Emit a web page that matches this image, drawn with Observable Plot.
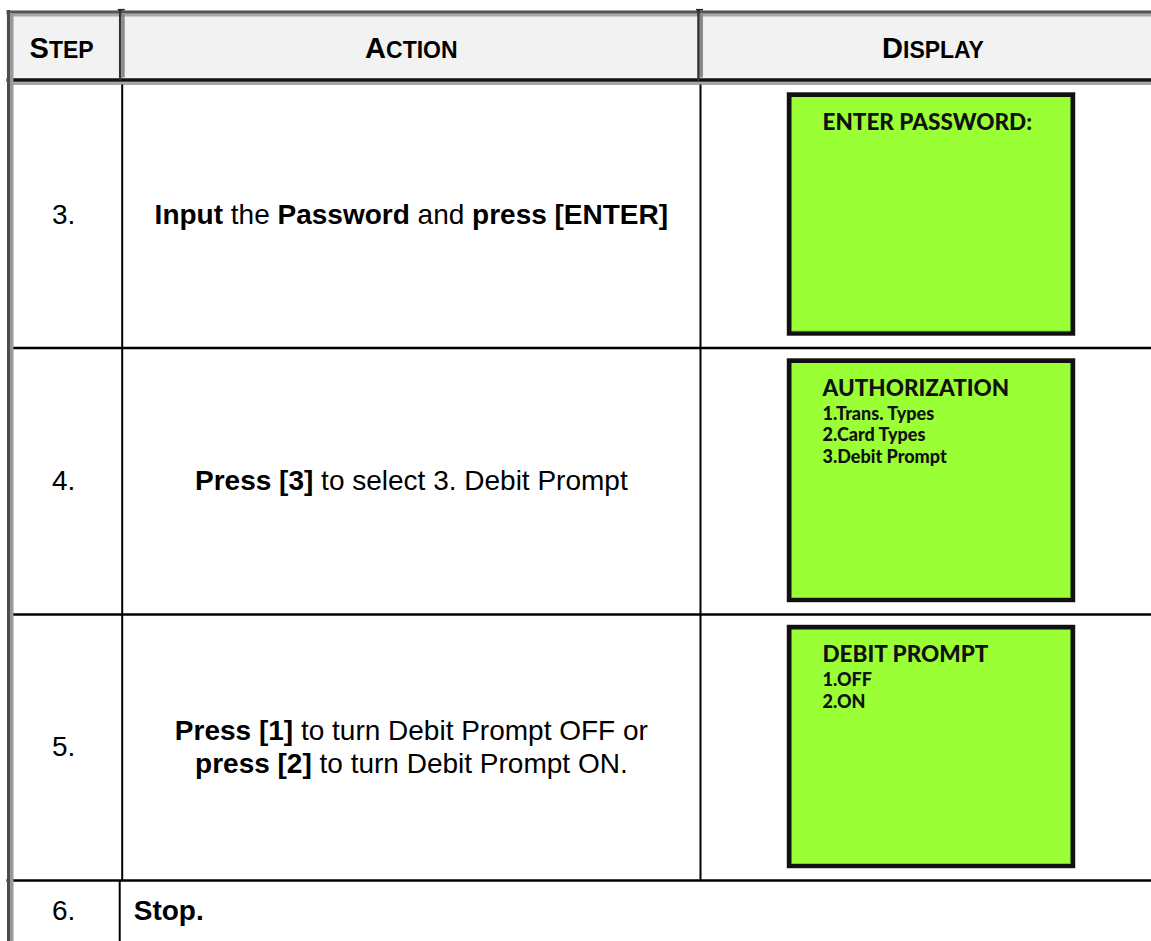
<!DOCTYPE html>
<html><head><meta charset="utf-8">
<script src="https://cdn.jsdelivr.net/npm/d3@7"></script>
<script src="https://cdn.jsdelivr.net/npm/@observablehq/plot@0.6"></script>
<style>html,body{margin:0;padding:0;background:#fff;} #chart svg{display:block;}</style>
</head><body><div id="chart"></div>
<script>
// ---- content ----
const headers = ["STEP", "ACTION", "DISPLAY"];
const steps = ["3.", "4.", "5.", "6."];
const actions = [
  ["*Input* the *Password* and *press [ENTER]*"],
  ["*Press [3]* to select 3. Debit Prompt"],
  ["*Press [1]* to turn Debit Prompt OFF or", "*press [2]* to turn Debit Prompt ON."],
  ["*Stop.*"]
];
const displayTitles = ["ENTER PASSWORD:", "AUTHORIZATION", "DEBIT PROMPT"];
const displayItems = [[], ["1.Trans. Types", "2.Card Types", "3.Debit Prompt"], ["1.OFF", "2.ON"]];

// ---- layout ----
const W = 1151, H = 941;
const L = {
  colEdges: [6.5, 121.7, 700, 1165],
  rowEdges: [10, 81.5, 347.5, 614, 880, 941],
  lastRowDivider: 119.2,
  stopIndent: 14,
  headerBaselineUp: 24.5,
  capFont: 29, smallFont: 23,
  actionFont: 28, actionLineGap: 33,
  boxLeft: 787, boxRight: 1075, boxInsetTop: 11, boxInsetBottom: 12,
  titleOffset: 21, itemOffset: 48, itemGap: 21.5,
  titleFont: 22.5, itemFont: 18
};
const sans = "'Liberation Sans', Arial, Helvetica, sans-serif";
const lcd = "Lato, 'Open Sans', sans-serif";
const colCenter = i => (L.colEdges[i] + L.colEdges[i + 1]) / 2;
const rowTop = i => L.rowEdges[i + 1];
const rowBottom = i => L.rowEdges[i + 2];
const rowCenter = i => (rowTop(i) + rowBottom(i)) / 2;
const lastRow = steps.length - 1;

const stepRows = steps.map((s, i) => ({x: colCenter(0) - 1, y: rowCenter(i), text: s}));
const actionLines = actions.flatMap((lines, i) => lines.map((t, j) => ({
  row: i,
  x: i === lastRow ? L.lastRowDivider + L.stopIndent : colCenter(1),
  y: rowCenter(i) + (j - (lines.length - 1) / 2) * L.actionLineGap,
  text: t
})));
const boxes = displayTitles.map((t, i) => ({
  x1: L.boxLeft, x2: L.boxRight,
  y1: rowTop(i) + L.boxInsetTop, y2: rowBottom(i) - L.boxInsetBottom, title: t
}));
const items = displayItems.flatMap((arr, i) => arr.map((t, j) => ({
  x: L.boxLeft + 35, y: boxes[i].y1 + L.itemOffset + j * L.itemGap, text: t
})));
const headerRows = headers.map((h, i) => ({x: colCenter(i) - (i === 0 ? 3 : 0), y: L.rowEdges[1] - L.headerBaselineUp, text: h}));
const bodyRowLines = L.rowEdges.slice(2, 5);

const svg = Plot.plot({
  width: W, height: H, margin: 0,
  x: {domain: [0, W], range: [0, W], axis: null},
  y: {domain: [0, H], range: [0, H], axis: null},
  style: {background: "#fff", overflow: "hidden"},
  marks: [
    // header background
    Plot.rect([0], {x1: L.colEdges[0], x2: L.colEdges[3], y1: L.rowEdges[0], y2: L.rowEdges[1], fill: "#f2f2f2"}),
    // header top border
    Plot.ruleY([L.rowEdges[0] + 1.7], {x1: L.colEdges[0], x2: L.colEdges[3], stroke: "#555", strokeWidth: 3.3}),
    Plot.ruleY([L.rowEdges[0] + 4.7], {x1: L.colEdges[0] + 6, x2: L.colEdges[3], stroke: "#a8a8a8", strokeWidth: 2.7}),
    // header bottom border
    Plot.ruleY([L.rowEdges[1] - 2], {x1: L.colEdges[0], x2: L.colEdges[3], stroke: "#111", strokeWidth: 3.5}),
    Plot.ruleY([L.rowEdges[1] + 1.5], {x1: L.colEdges[0] + 6, x2: L.colEdges[3], stroke: "#a6a6a6", strokeWidth: 3}),
    // header column dividers
    Plot.ruleX(L.colEdges.slice(1, 3), {x: d => d - 2, y1: L.rowEdges[0] - 1, y2: L.rowEdges[1] - 1, stroke: "#333", strokeWidth: 2.5}),
    Plot.ruleX(L.colEdges.slice(1, 3), {x: d => d + 1, y1: L.rowEdges[0] + 3, y2: L.rowEdges[1] - 4, stroke: "#8a8a8a", strokeWidth: 3}),
    Plot.ruleY(L.colEdges.slice(1, 3), {y: L.rowEdges[0] - 0.8, x1: d => d - 4, x2: d => d + 3, stroke: "#222", strokeWidth: 1.6}),
    // body row lines
    Plot.ruleY(bodyRowLines, {x1: (d, i) => i === 2 ? L.colEdges[0] : L.colEdges[0] + 6.5, x2: L.colEdges[3], stroke: "#000", strokeWidth: 2.5}),
    // body column dividers
    Plot.ruleX(L.colEdges.slice(1, 3), {y1: L.rowEdges[1] + 3, y2: L.rowEdges[4], stroke: "#000", strokeWidth: 2}),
    Plot.ruleX([L.lastRowDivider], {y1: L.rowEdges[4], y2: L.rowEdges[5], stroke: "#000", strokeWidth: 2}),
    // left border
    Plot.ruleX([L.colEdges[0] + 1.5], {y1: L.rowEdges[0], y2: H, stroke: "#4d4d4d", strokeWidth: 3}),
    Plot.ruleX([L.colEdges[0] + 4.75], {y1: L.rowEdges[0] + 3, y2: H, stroke: "#9a9a9a", strokeWidth: 3.5}),
    // display boxes
    Plot.rect(boxes, {x1: d => d.x1 - 0.5, x2: d => d.x2 + 0.5, y1: d => d.y1 - 0.5, y2: d => d.y2 + 0.5, fill: "#9a9a9a"}),
    Plot.rect(boxes, {x1: "x1", x2: "x2", y1: "y1", y2: "y2", fill: "#111"}),
    Plot.rect(boxes, {x1: d => d.x1 + 4.5, x2: d => d.x2 - 4.5, y1: d => d.y1 + 4.5, y2: d => d.y2 - 4.5, fill: "#9bff35"}),
    Plot.ruleY(boxes, {y: d => d.y2 - 5, x1: d => d.x1 + 4.5, x2: d => d.x2 - 4.5, stroke: "#72cc2e", strokeWidth: 1}),
    Plot.text(boxes, {x: d => d.x1 + 35, y: d => d.y1 + L.titleOffset, text: "title", lineAnchor: "top", textAnchor: "start",
      fontFamily: lcd, fontWeight: 900, fontSize: L.titleFont, fill: "#111"}),
    Plot.text(items, {x: "x", y: "y", text: "text", lineAnchor: "top", textAnchor: "start",
      fontFamily: lcd, fontWeight: 900, fontSize: L.itemFont, fill: "#111"}),
    // header texts
    Plot.text(headerRows, {x: "x", y: "y", text: "text", lineAnchor: "bottom", textAnchor: "middle",
      fontFamily: sans, fontWeight: "bold", fontSize: L.smallFont, fill: "#000"}),
    // step numbers
    Plot.text(stepRows, {x: "x", y: "y", text: "text", lineAnchor: "middle", textAnchor: "middle",
      fontFamily: sans, fontSize: L.actionFont, fill: "#000"}),
    // actions
    Plot.text(actionLines.filter(d => d.row !== lastRow), {x: "x", y: "y", text: "text", lineAnchor: "middle", textAnchor: "middle",
      fontFamily: sans, fontSize: L.actionFont, fill: "#000"}),
    Plot.text(actionLines.filter(d => d.row === lastRow), {x: "x", y: "y", text: "text", lineAnchor: "middle", textAnchor: "start",
      fontFamily: sans, fontSize: L.actionFont, fill: "#000"})
  ]
});

// rich text: small caps for headers, bold segments (*...*) for actions
d3.select(svg).selectAll("text").each(function () {
  const s = this.textContent;
  const el = d3.select(this);
  if (headers.includes(s)) {
    el.text(null);
    el.append("tspan").attr("font-size", L.capFont).text(s[0]);
    el.append("tspan").attr("font-size", L.smallFont).text(s.slice(1));
  } else if (s.includes("*")) {
    const parts = s.split("*");
    el.text(null);
    parts.forEach((p, i) => { if (p) el.append("tspan").attr("font-weight", i % 2 ? "bold" : "normal").text(p); });
  }
});
document.getElementById("chart").appendChild(svg);
</script>
</body></html>
